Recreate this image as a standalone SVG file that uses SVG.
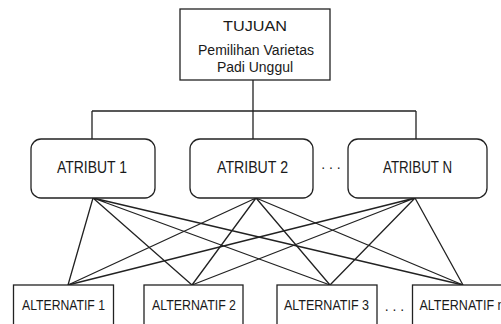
<svg xmlns="http://www.w3.org/2000/svg" width="501" height="324" viewBox="0 0 501 324">
<style>
.box{fill:#fff;stroke:#222;stroke-width:1.3}
.ln{fill:none;stroke:#222;stroke-width:1.3}
text{font-family:"Liberation Sans",Arial,sans-serif;fill:#1a1a1a;text-anchor:middle}
.t{font-size:15.5px}
.a{font-size:16px}
.b{font-size:15px}
.d{font-size:14px}
</style>
<rect width="501" height="324" fill="#fff"/>
<g id="connectors">
<path class="ln" d="M253 80V139M92 111H416M92 111V139M416 111V139"/>
<path class="ln" d="M93 198L68 285M93 198L192 285M93 198L330 285M93 198L463 285"/>
<path class="ln" d="M256 198L68 285M256 198L192 285M256 198L330 285M256 198L463 285"/>
<path class="ln" d="M415 198L68 285M415 198L192 285M415 198L330 285M415 198L463 285"/>
</g>
<g id="tujuan">
<rect class="box" x="180" y="9" width="150" height="71"/>
<text class="t" x="255" y="31" font-size="17" textLength="64" lengthAdjust="spacingAndGlyphs">TUJUAN</text>
<text class="t" x="256" y="55" textLength="116" lengthAdjust="spacingAndGlyphs">Pemilihan Varietas</text>
<text class="t" x="255" y="72" textLength="76" lengthAdjust="spacingAndGlyphs">Padi Unggul</text>
</g>
<g id="atribut1">
<rect class="box" x="31" y="139" width="124" height="59" rx="10"/>
<text class="a" x="92" y="173" textLength="70" lengthAdjust="spacingAndGlyphs">ATRIBUT 1</text>
</g>
<g id="atribut2">
<rect class="box" x="190" y="139" width="123" height="59" rx="10"/>
<text class="a" x="252.5" y="173" textLength="71" lengthAdjust="spacingAndGlyphs">ATRIBUT 2</text>
</g>
<g id="dots1"><text class="d" x="331" y="169">. . .</text></g>
<g id="atributN">
<rect class="box" x="348" y="139" width="139" height="59" rx="10"/>
<text class="a" x="417.5" y="173" textLength="69" lengthAdjust="spacingAndGlyphs">ATRIBUT N</text>
</g>
<g id="alt1">
<rect class="box" x="13.5" y="285" width="100" height="50"/>
<text class="b" x="63.5" y="310" textLength="83" lengthAdjust="spacingAndGlyphs">ALTERNATIF 1</text>
</g>
<g id="alt2">
<rect class="box" x="144" y="285" width="99" height="50"/>
<text class="b" x="194" y="310" textLength="84" lengthAdjust="spacingAndGlyphs">ALTERNATIF 2</text>
</g>
<g id="alt3">
<rect class="box" x="277" y="285" width="100" height="50"/>
<text class="b" x="326.5" y="310" textLength="85" lengthAdjust="spacingAndGlyphs">ALTERNATIF 3</text>
</g>
<g id="dots2"><text class="d" x="394.5" y="311">. . .</text></g>
<g id="altN">
<rect class="box" x="412.5" y="285" width="100" height="50"/>
<text class="b" x="462" y="310" textLength="85" lengthAdjust="spacingAndGlyphs">ALTERNATIF n</text>
</g>
</svg>
